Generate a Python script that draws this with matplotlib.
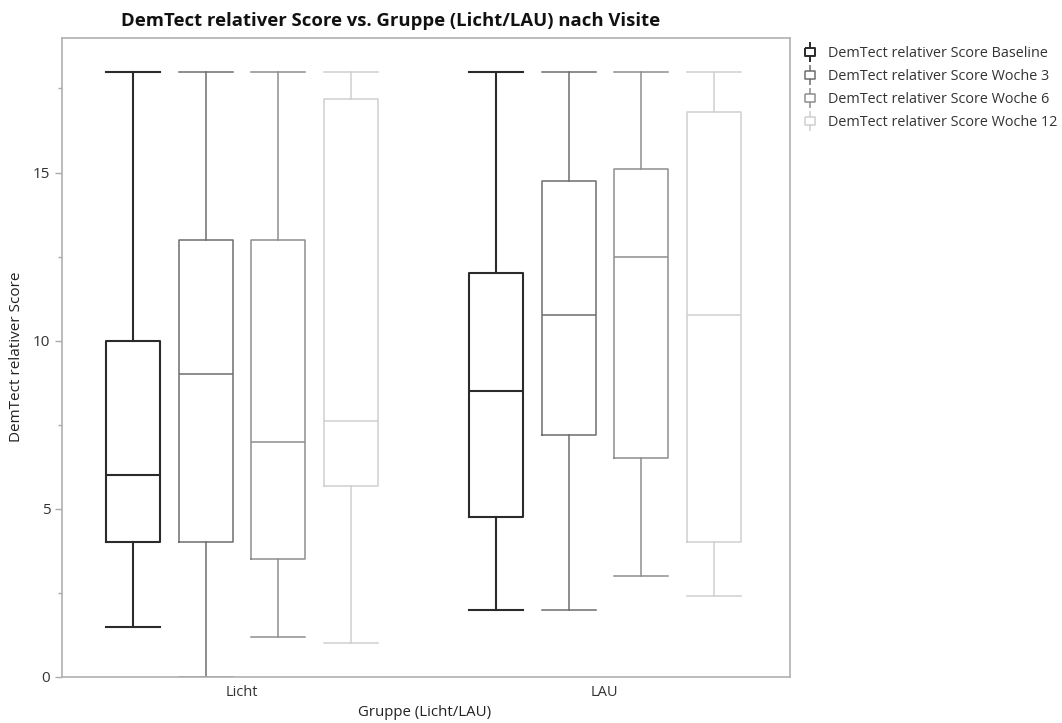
import matplotlib
matplotlib.use("Agg")
import matplotlib.pyplot as plt
from matplotlib.path import Path
from matplotlib.lines import Line2D

plt.rcParams['font.family'] = ['Open Sans', 'DejaVu Sans']

# Groups and visits
groups = ["Licht", "LAU"]
visits = ["Baseline", "Woche 3", "Woche 6", "Woche 12"]
series_labels = ["DemTect relativer Score " + v for v in visits]

# Five-number summaries per visit: [Licht, LAU]
whislo = [[1.5, 2.0], [0.0, 2.0], [1.2, 3.0], [1.0, 2.4]]
q1 = [[4.0, 4.75], [4.0, 7.2], [3.5, 6.5], [5.67, 4.0]]
med = [[6.0, 8.5], [9.0, 10.75], [7.0, 12.5], [7.6, 10.75]]
q3 = [[10.0, 12.0], [13.0, 14.75], [13.0, 15.1], [17.2, 16.8]]
whishi = [[18.0, 18.0], [18.0, 18.0], [18.0, 18.0], [18.0, 18.0]]

colors = ["#2b2b2b", "#6e6e6e", "#8e8e8e", "#cfcfcf"]
widths_lw = [1.5, 1.1, 1.1, 1.1]

fig = plt.figure(figsize=(10.62, 7.23), dpi=100)
ax = fig.add_axes([62 / 1062, 1 - 677 / 723, (790 - 62) / 1062, (677 - 38) / 723])

step = 0.2
box_w = 0.149
for vi in range(len(visits)):
    stats = []
    positions = []
    for gi in range(len(groups)):
        stats.append(dict(whislo=whislo[vi][gi], q1=q1[vi][gi], med=med[vi][gi],
                          q3=q3[vi][gi], whishi=whishi[vi][gi], fliers=[]))
        positions.append(gi + (vi - 1.5) * step)
    c = colors[vi]
    lw = widths_lw[vi]
    ax.bxp(stats, positions=positions, widths=box_w, showfliers=False,
           capwidths=box_w, manage_ticks=False,
           boxprops=dict(color=c, linewidth=lw),
           medianprops=dict(color=c, linewidth=lw),
           whiskerprops=dict(color=c, linewidth=lw),
           capprops=dict(color=c, linewidth=lw))

ax.set_xlim(-0.496, 1.51)
ax.set_ylim(0, 19)
ax.set_xticks([0, 1])
ax.set_xticklabels(groups)
ax.set_yticks([0, 5, 10, 15])
ax.set_yticks([2.5, 7.5, 12.5, 17.5], minor=True)
ax.tick_params(axis='x', length=0, pad=6, labelsize=10.5, colors="#333333")
ax.tick_params(axis='y', which='major', length=5, width=1, color="#aaaaaa",
               labelsize=11, labelcolor="#333333")
ax.tick_params(axis='y', which='minor', length=3, width=1, color="#aaaaaa")
for s in ax.spines.values():
    s.set_color("#b0b0b0")
    s.set_linewidth(1.2)

fig.text(17 / 1062, 1 - 357 / 723, "DemTect relativer Score", rotation=90,
         ha='center', va='center', fontsize=11, color="#222222")
fig.text(425 / 1062, 1 - 712 / 723, "Gruppe (Licht/LAU)", ha='center',
         va='center', fontsize=10.8, color="#222222")
fig.text(391 / 1062, 1 - 21 / 723, "DemTect relativer Score vs. Gruppe (Licht/LAU) nach Visite",
         ha='center', va='center', fontsize=13.3, fontweight='bold',
         color="#111111")

# Small vertical box-plot glyph for legend entries
glyph = Path([(0, 1.0), (0, 0.45), (-0.5, 0.45), (0.5, 0.45), (0.5, -0.45),
              (-0.5, -0.45), (-0.5, 0.45), (0, -0.45), (0, -1.0)],
             [Path.MOVETO, Path.LINETO, Path.MOVETO, Path.LINETO, Path.LINETO,
              Path.LINETO, Path.LINETO, Path.MOVETO, Path.LINETO])
handles = [Line2D([], [], linestyle='none', marker=glyph, markersize=14,
                  markerfacecolor='none', markeredgecolor=colors[i],
                  markeredgewidth=1.4 if i == 0 else 1.1)
           for i in range(len(visits))]
fig.legend(handles, series_labels, loc='upper left',
           bbox_to_anchor=(798 / 1062, 1 - 40 / 723), frameon=False,
           fontsize=10.4, handlelength=0.9, handletextpad=0.75, labelspacing=0.55,
           borderaxespad=0, labelcolor="#333333")

fig.savefig("out.png", dpi=100)
